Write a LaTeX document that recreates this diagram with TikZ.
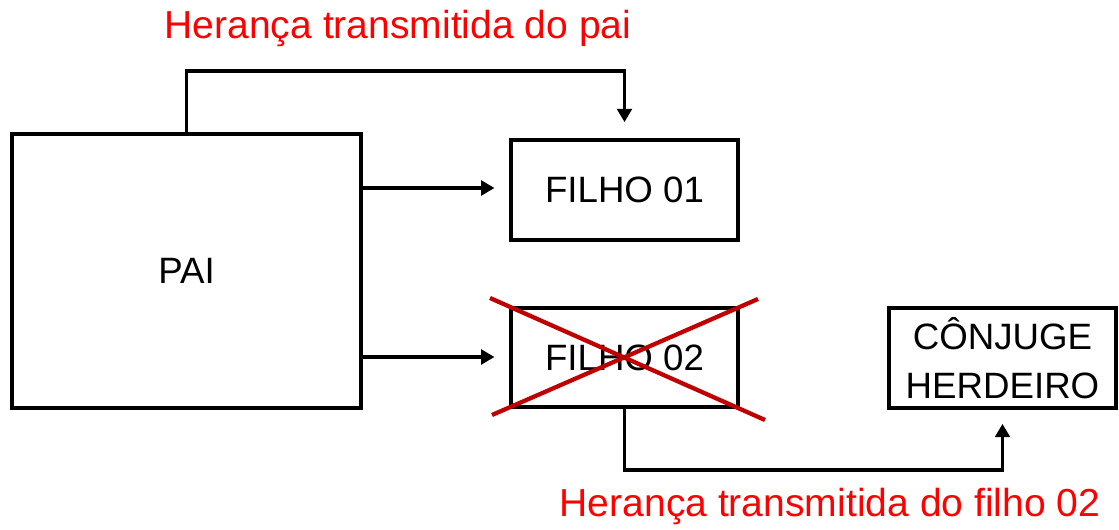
\documentclass[tikz,border=0pt]{standalone}
\usepackage{fontspec}
\setmainfont{Liberation Sans}
\usetikzlibrary{arrows.meta}
\definecolor{labelred}{RGB}{255,0,0}
\definecolor{crossred}{RGB}{192,0,0}
\begin{document}
\begin{tikzpicture}[x=0.75pt,y=-0.75pt,
  box/.style={draw=black,line width=2.8pt,fill=white,inner sep=0pt,align=center,
    font=\fontsize{27.5}{37}\selectfont},
  link/.style={draw=black,line width=2.6pt,-{Triangle[length=10pt,width=11pt]}},
  note/.style={text=labelred,font=\fontsize{29.3}{34}\selectfont,inner sep=0pt},
  strike/.style={draw=crossred,line width=3.2pt}]
\useasboundingbox (0,0) rectangle (1119,530);

% boxes
\node[box,minimum width=261.75pt,minimum height=205.5pt] (pai) at (186.5,271) {PAI};
\node[box,minimum width=170.25pt,minimum height=75pt] (f1) at (624.5,190) {FILHO 01};
\node[box,minimum width=170.25pt,minimum height=74.25pt] (f2) at (624.5,357.5) {FILHO 02};
\node[box,minimum width=170.25pt,minimum height=75pt] (cj) at (1002.5,358) {CÔNJUGE\\HERDEIRO};

% direct arrows from the parent
\draw[link,shorten >=11pt] (pai.east |- 0,188) -- (f1.west |- 0,188);
\draw[link,shorten >=11pt] (pai.east |- 0,357) -- (f2.west |- 0,357);

% inheritance routes
\draw[link,shorten >=12pt] (pai.north) -- (pai.north |- 0,71) -| (f1.north);
\draw[link,shorten >=10.5pt] (f2.south) -- (f2.south |- 0,470) -| (cj.south);

% crossed-out child
\draw[strike] (490,298) -- (765,420);
\draw[strike] (492,415) -- (758,299);

% labels
\node[note] (tlab) at (398,28) {Herança transmitida do pai};
\node[note] (blab) at (830,506) {Herança transmitida do filho 02};
\end{tikzpicture}
\end{document}
